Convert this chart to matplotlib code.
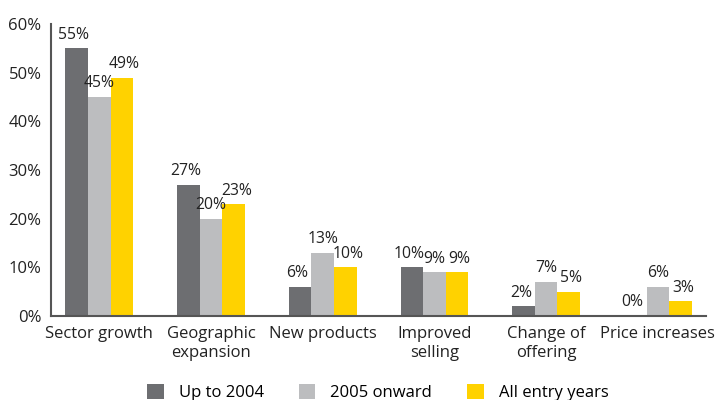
import matplotlib.pyplot as plt
import numpy as np

categories = ['Sector growth', 'Geographic\nexpansion', 'New products',
              'Improved\nselling', 'Change of\noffering', 'Price increases']
up_to_2004 = [55, 27, 6, 10, 2, 0]
onward_2005 = [45, 20, 13, 9, 7, 6]
all_years = [49, 23, 10, 9, 5, 3]
series_names = ['Up to 2004', '2005 onward', 'All entry years']
colors = ['#6d6e71', '#bcbdbf', '#ffd200']

plt.rcParams['font.family'] = ['Open Sans', 'DejaVu Sans']
fig = plt.figure(figsize=(7.21, 4.0), dpi=100)
ax = fig.add_axes([0.071, 0.21, 0.908, 0.73])

x = np.arange(len(categories))
w = 0.202
nudge = [-2, 0, 2]
for i, (vals, name, c) in enumerate(zip([up_to_2004, onward_2005, all_years],
                                        series_names, colors)):
    bars = ax.bar(x + (i - 1) * w, vals, w, color=c, label=name)
    for b, v in zip(bars, vals):
        ax.annotate(f'{v}%', (b.get_x() + b.get_width() / 2, b.get_height()),
                    xytext=(nudge[i], 4), textcoords='offset points',
                    ha='center', va='bottom', fontsize=11.3, color='#222222')

ax.set_xlim(-0.43, len(categories) - 0.57)
ax.set_ylim(0, 60)
ax.set_yticks(range(0, 61, 10))
ax.set_yticklabels([f'{v}%' for v in range(0, 61, 10)], fontsize=12, color='#222222')
ax.set_xticks(x)
ax.set_xticklabels(categories, fontsize=12, color='#222222', linespacing=1.3)
ax.tick_params(axis='y', length=0, pad=7)
ax.tick_params(axis='x', length=0, pad=7)
for s in ['top', 'right']:
    ax.spines[s].set_visible(False)
for s in ['left', 'bottom']:
    ax.spines[s].set_color('#555555')
    ax.spines[s].set_linewidth(1.5)

fig.legend(loc='lower center', bbox_to_anchor=(0.524, -0.04), ncol=3,
           frameon=False, fontsize=12, handlelength=1.0, handleheight=1.0,
           columnspacing=2.1, handletextpad=0.9)

fig.savefig('out.png', dpi=100)
